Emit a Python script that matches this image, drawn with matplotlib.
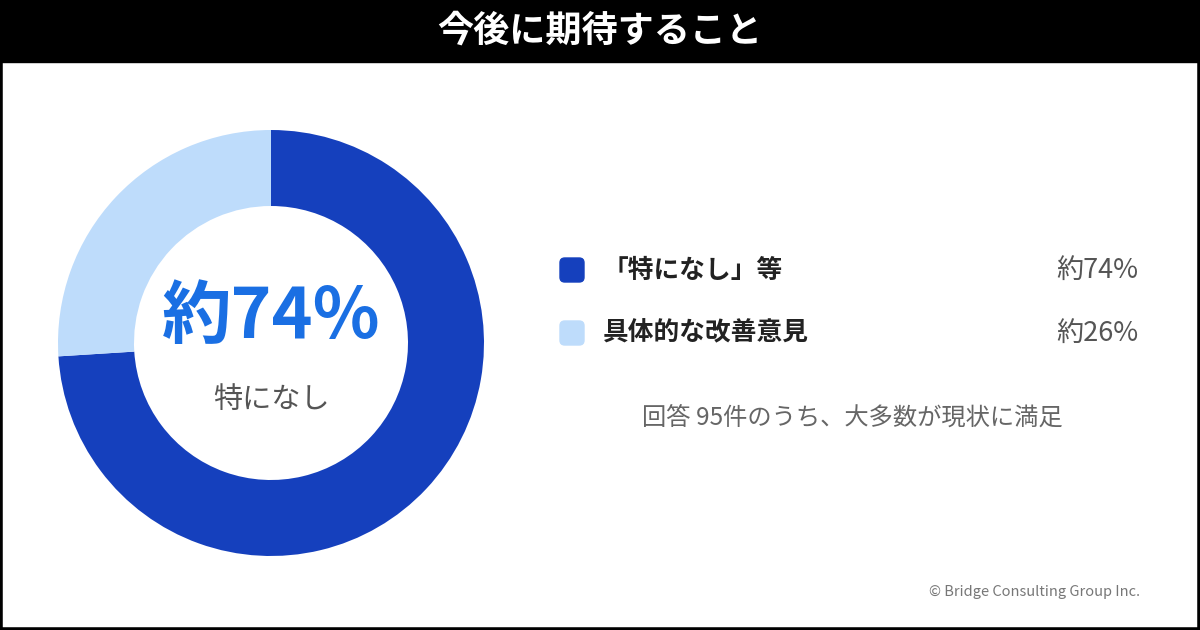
import matplotlib
matplotlib.use("Agg")
import matplotlib.pyplot as plt
from matplotlib.patches import Rectangle, FancyBboxPatch

plt.rcParams['font.family'] = ['Noto Sans CJK JP', 'DejaVu Sans']

title = "今後に期待すること"
labels = ["「特になし」等", "具体的な改善意見"]
values = [74, 26]
value_labels = ["約74%", "約26%"]
colors = ["#1540BD", "#BEDCFB"]
center_big = "約74%"
center_small = "特になし"
note = "回答 95件のうち、大多数が現状に満足"
credit = "© Bridge Consulting Group Inc."

W, H = 1200, 630
fig = plt.figure(figsize=(12, 6.3), dpi=100)
fig.patch.set_facecolor("white")

def fx(x): return x / W
def fy(y): return 1 - y / H

fig.patches.append(Rectangle((0, fy(62)), 1, 62 / H, transform=fig.transFigure, color="black", zorder=0))
fig.patches.append(Rectangle((0, 0), 1, 1, transform=fig.transFigure, fill=False, edgecolor="black", linewidth=4, zorder=5))
fig.text(0.5, fy(31), title, ha="center", va="center", color="white", fontsize=26, fontweight="bold")

cx, cy, r = 271, 343, 213
ax = fig.add_axes([fx(cx - r), fy(cy + r), 2 * r / W, 2 * r / H])
ax.pie(values, colors=colors, startangle=90, counterclock=False,
       wedgeprops=dict(width=76 / r, linewidth=0))
ax.set_aspect("equal")
ax.set_xlim(-1, 1); ax.set_ylim(-1, 1)
ax.axis("off")
fig.text(fx(cx), fy(318), center_big, ha="center", va="center", color="#1A6FE3", fontsize=50, fontweight="bold")
fig.text(fx(cx), fy(400), center_small, ha="center", va="center", color="#555555", fontsize=21)

for i, (lab, vl, c) in enumerate(zip(labels, value_labels, colors)):
    y = 270 + i * 63
    fig.patches.append(FancyBboxPatch((fx(560), fy(y + 12)), 24 / W, 24 / H,
                                      boxstyle="round,pad=0,rounding_size=0.004",
                                      transform=fig.transFigure, color=c, mutation_aspect=W / H))
    fig.text(fx(603), fy(y), lab, ha="left", va="center", color="#222222", fontsize=18.5, fontweight="bold")
    fig.text(fx(1138), fy(y), vl, ha="right", va="center", color="#555555", fontsize=19.5)

fig.text(fx(852), fy(418), note, ha="center", va="center", color="#666666", fontsize=17.5)
fig.text(fx(1140), fy(592), credit, ha="right", va="center", color="#777777", fontsize=10.5)

fig.savefig("out.png", dpi=100)
